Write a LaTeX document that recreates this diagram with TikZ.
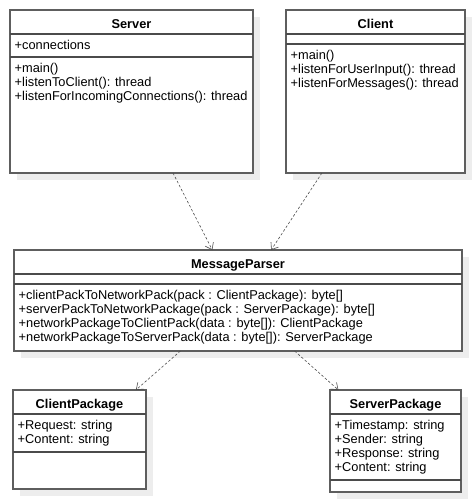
\documentclass[tikz,border=0pt]{standalone}
\usepackage{fontspec}
\setmainfont{Liberation Sans}
\usetikzlibrary{arrows.meta}
\definecolor{boxgray}{HTML}{5E5E5E}
\definecolor{shadowgray}{HTML}{EDEDED}

\begin{document}
\begin{tikzpicture}[x=1pt, y=-1pt,
  classbox/.style={draw=boxgray, line width=1.3pt, fill=white, inner sep=0pt, outer sep=0pt},
  classshadow/.style={fill=shadowgray, draw=none},
  divider/.style={draw=boxgray!80!black, line width=1.8pt},
  classtitle/.style={anchor=base, inner sep=0pt, font=\fontsize{12.8}{14}\selectfont\bfseries},
  member/.style={anchor=base west, inner sep=0pt, font=\fontsize{12.8}{14}\selectfont},
  dep/.style={draw=black!70, line width=0.6pt, dash pattern=on 2.5pt off 2pt, -{Straight Barb[length=6pt, width=9pt]}}]
  \useasboundingbox (0,0) rectangle (475,504);

  % Server
  \fill[classshadow] (17,17) rectangle (260,180);
  \node[classbox, minimum width=243pt, minimum height=163pt] (server) at (131.5,91.5) {};
  \draw[divider] (10,34) -- (253,34);
  \draw[divider] (10,57) -- (253,57);
  \node[classtitle] (servertitle) at (131.5,28) {Server};
  \node[member] (serverattr) at (14.5,49.5) {+connections};
  \node[member] (serverop1) at (14.5,72.5) {+main()};
  \node[member] (serverop2) at (14.5,86.5) {+listenToClient(): thread};
  \node[member] (serverop3) at (14.5,100.5) {+listenForIncomingConnections(): thread};

  % Client
  \fill[classshadow] (293,17) rectangle (472,180);
  \node[classbox, minimum width=179pt, minimum height=163pt] (client) at (375.5,91.5) {};
  \draw[divider] (286,34) -- (465,34);
  \draw[divider] (286,44) -- (465,44);
  \node[classtitle] (clienttitle) at (375.5,28) {Client};
  \node[member] (clientop1) at (290.5,59.5) {+main()};
  \node[member] (clientop2) at (290.5,73.5) {+listenForUserInput(): thread};
  \node[member] (clientop3) at (290.5,87.5) {+listenForMessages(): thread};

  % MessageParser
  \fill[classshadow] (21,257) rectangle (469,358);
  \node[classbox, minimum width=448pt, minimum height=101pt] (parser) at (238,300.5) {};
  \draw[divider] (14,274) -- (462,274);
  \draw[divider] (14,284) -- (462,284);
  \node[classtitle] (parsertitle) at (238,268) {MessageParser};
  \node[member] (parserop1) at (18.5,299.5) {+clientPackToNetworkPack(pack : ClientPackage): byte[]};
  \node[member] (parserop2) at (18.5,313.5) {+serverPackToNetworkPackage(pack : ServerPackage): byte[]};
  \node[member] (parserop3) at (18.5,327.5) {+networkPackageToClientPack(data : byte[]): ClientPackage};
  \node[member] (parserop4) at (18.5,341.5) {+networkPackageToServerPack(data : byte[]): ServerPackage};

  % ClientPackage
  \fill[classshadow] (20,397) rectangle (153,496);
  \node[classbox, minimum width=133pt, minimum height=99pt] (clientpack) at (79.5,439.5) {};
  \draw[divider] (13,414) -- (146,414);
  \draw[divider] (13,452) -- (146,452);
  \node[classtitle] (clientpacktitle) at (79.5,408) {ClientPackage};
  \node[member] (clientpackattr1) at (17.5,429.5) {+Request: string};
  \node[member] (clientpackattr2) at (17.5,443.5) {+Content: string};

  % ServerPackage
  \fill[classshadow] (337,397) rectangle (468,499);
  \node[classbox, minimum width=131pt, minimum height=102pt] (serverpack) at (395.5,441) {};
  \draw[divider] (330,414) -- (461,414);
  \draw[divider] (330,480) -- (461,480);
  \node[classtitle] (serverpacktitle) at (395.5,408) {ServerPackage};
  \node[member] (serverpackattr1) at (334.5,429.5) {+Timestamp: string};
  \node[member] (serverpackattr2) at (334.5,443.5) {+Sender: string};
  \node[member] (serverpackattr3) at (334.5,457.5) {+Response: string};
  \node[member] (serverpackattr4) at (334.5,471.5) {+Content: string};

  % dependencies
  \draw[dep] (server) -- (parser);
  \draw[dep] (client) -- (parser);
  \draw[dep] (parser) -- (clientpack);
  \draw[dep] (parser) -- (serverpack);
\end{tikzpicture}
\end{document}
